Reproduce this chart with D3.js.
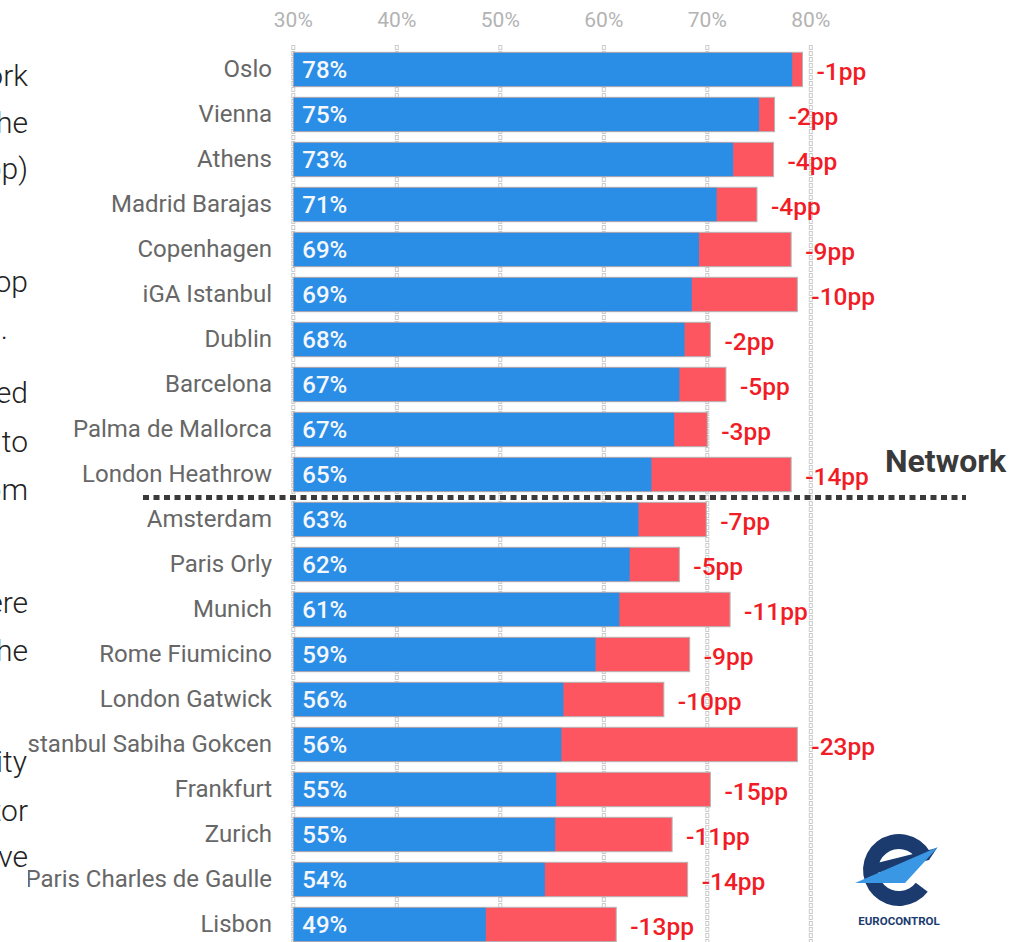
<!DOCTYPE html>
<html>
<head>
<meta charset="utf-8">
<script src="https://cdn.jsdelivr.net/npm/d3@7"></script>
<style>
  html, body { margin: 0; padding: 0; background: #fff; }
  svg { display: block; font-family: Roboto, "Noto Sans", sans-serif; }
</style>
</head>
<body>
<svg id="chart" width="1012" height="942"></svg>
<script>
// ---------- data ----------
const airports = ["Oslo","Vienna","Athens","Madrid Barajas","Copenhagen","iGA Istanbul","Dublin","Barcelona","Palma de Mallorca","London Heathrow","Amsterdam","Paris Orly","Munich","Rome Fiumicino","London Gatwick","Istanbul Sabiha Gokcen","Frankfurt","Zurich","Paris Charles de Gaulle","Lisbon"];
const current = [78.2,75.0,72.5,70.9,69.2,68.5,67.8,67.3,66.8,64.6,63.35,62.5,61.5,59.2,56.1,55.9,55.4,55.3,54.3,48.6];
const previous = [79.2,76.5,76.4,74.8,78.1,78.7,70.3,71.8,70.0,78.1,69.9,67.3,72.2,68.3,65.8,78.7,70.3,66.6,68.1,61.2];
const currentLabels = ["78%","75%","73%","71%","69%","69%","68%","67%","67%","65%","63%","62%","61%","59%","56%","56%","55%","55%","54%","49%"];
const changeLabels = ["-1pp","-2pp","-4pp","-4pp","-9pp","-10pp","-2pp","-5pp","-3pp","-14pp","-7pp","-5pp","-11pp","-9pp","-10pp","-23pp","-15pp","-11pp","-14pp","-13pp"];
const tickValues = [30,40,50,60,70,80];
const tickLabels = ["30%","40%","50%","60%","70%","80%"];
const networkLabel = "Network";
const networkAfter = "London Heathrow";
const paragraphWords = ["network","the","(-9pp)","top",".","affected","to","from","were","the","capacity","operator","have"];

// ---------- drawing ----------
const svg = d3.select("#chart");
const x = d3.scaleLinear().domain([30, 80]).range([293.3, 810.8]);
const y = d3.scaleBand().domain(airports).range([47, 947]).paddingInner(0.236).paddingOuter(0.118);

// left paragraph fragments (cut by the page edge)
const paraY = [86,133,179,292,339,403,452,500,613,661,772,821,867];
const paraX = [28,28,28,28,8,28,28,28,28,28,27,28,28];
svg.append("g").selectAll("text").data(paragraphWords).join("text")
  .attr("x", (d,i) => paraX[i]).attr("y", (d,i) => paraY[i])
  .attr("text-anchor", "end")
  .attr("font-size", 30).attr("font-weight", 300).attr("fill", "#222")
  .text(d => d);

// chart area clipped at its left edge
svg.append("clipPath").attr("id", "clip").append("rect")
  .attr("x", 28).attr("y", 0).attr("width", 984).attr("height", 942);
const g = svg.append("g").attr("clip-path", "url(#clip)");

// top tick labels
g.append("g").selectAll("text").data(tickValues).join("text")
  .attr("x", d => x(d)).attr("y", 27)
  .attr("text-anchor", "middle")
  .attr("font-size", 21).attr("fill", "#b3b3b3")
  .text((d,i) => tickLabels[i]);

// gridlines (chain of tiny hollow squares)
const grid = g.append("g");
grid.selectAll("line.o").data(tickValues).join("line").attr("class","o")
  .attr("x1", d => x(d)).attr("x2", d => x(d)).attr("y1", 45).attr("y2", 942)
  .attr("stroke", "#cbcbcb").attr("stroke-width", 4).attr("stroke-dasharray", "5,1");
grid.selectAll("line.i").data(tickValues).join("line").attr("class","i")
  .attr("x1", d => x(d)).attr("x2", d => x(d)).attr("y1", 45).attr("y2", 942)
  .attr("stroke", "#fff").attr("stroke-width", 2).attr("stroke-dasharray", "3,3").attr("stroke-dashoffset", -1);

// category labels
g.append("g").selectAll("text").data(airports).join("text")
  .attr("x", 272).attr("y", d => y(d) + y.bandwidth()/2 + 7.5)
  .attr("text-anchor", "end")
  .attr("font-size", 24).attr("fill", "#676767")
  .text(d => d);

// bars
const bars = g.append("g");
bars.selectAll("rect.tot").data(airports).join("rect").attr("class","tot")
  .attr("x", x(30)).attr("y", d => y(d))
  .attr("width", (d,i) => x(previous[i]) - x(30)).attr("height", y.bandwidth())
  .attr("fill", "#fd5660").attr("stroke", "#b4b4b4").attr("stroke-width", 1);
bars.selectAll("rect.cur").data(airports).join("rect").attr("class","cur")
  .attr("x", x(30) + 0.5).attr("y", d => y(d) + 0.5)
  .attr("width", (d,i) => x(current[i]) - x(30) - 0.5).attr("height", y.bandwidth() - 1)
  .attr("fill", "#2a8de6");

// value labels
g.append("g").selectAll("text").data(airports).join("text")
  .attr("x", x(30) + 9).attr("y", d => y(d) + y.bandwidth()/2 + 8.5)
  .attr("font-size", 24).attr("font-weight", 500).attr("fill", "#f4f7fb")
  .text((d,i) => currentLabels[i]);

// change labels
g.append("g").selectAll("text").data(airports).join("text")
  .attr("x", (d,i) => x(previous[i]) + 14).attr("y", d => y(d) + y.bandwidth()/2 + 10)
  .attr("font-size", 24.5).attr("font-weight", 500).attr("fill", "#f11c25")
  .text((d,i) => changeLabels[i]);

// network separator
const sepY = y(networkAfter) + y.step() - (y.step() - y.bandwidth())/2 + 0.5;
g.append("line")
  .attr("x1", 143).attr("x2", 966).attr("y1", sepY).attr("y2", sepY)
  .attr("stroke", "#3a3a3a").attr("stroke-width", 5).attr("stroke-dasharray", "6,4.5");
g.append("text")
  .attr("x", 885).attr("y", 472)
  .attr("font-size", 32).attr("font-weight", 700).attr("fill", "#3a3a3a")
  .text(networkLabel);

// EUROCONTROL logo
const logo = svg.append("g").attr("transform", "translate(899,870)");
const arc = d3.arc().innerRadius(21).outerRadius(36)
  .startAngle(127 * Math.PI / 180).endAngle((360 + 60) * Math.PI / 180);
logo.append("path").attr("d", arc()).attr("fill", "#1b3b6f");
logo.append("path").attr("d", "M-34,6 L-34,-4 L38,-22 L30,-10 Z").attr("fill", "#1b3b6f");
logo.append("path").attr("d", "M-44,13 L39,-23 L6,13 Z").attr("fill", "#3a97e3");
logo.append("text").attr("x", 0).attr("y", 55).attr("text-anchor", "middle")
  .attr("font-size", 11.5).attr("font-weight", 700).attr("fill", "#1b3b6f")
  .text("EUROCONTROL");
</script>
</body>
</html>
